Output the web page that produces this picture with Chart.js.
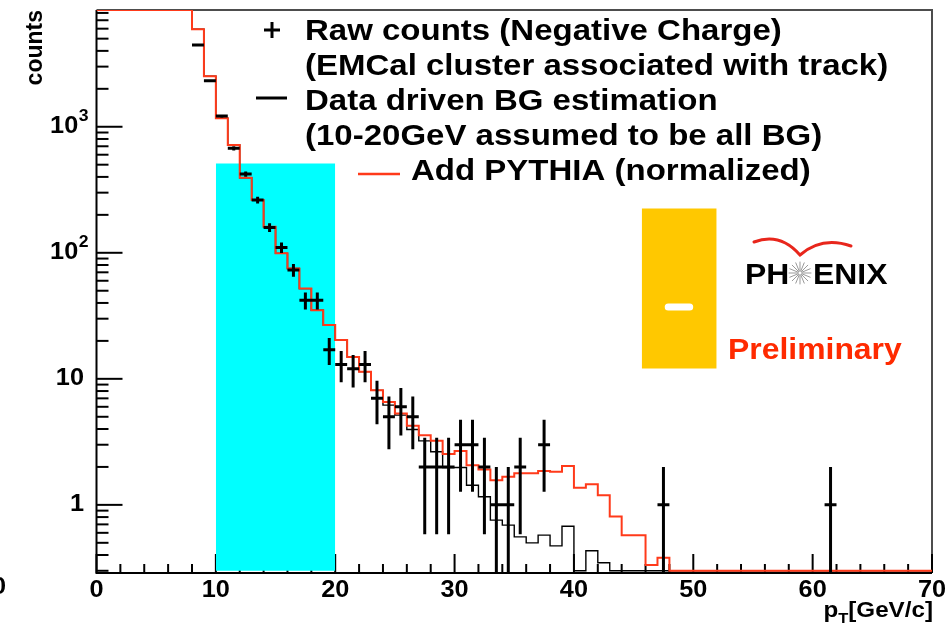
<!DOCTYPE html>
<html>
<head>
<meta charset="utf-8">
<script src="https://cdn.jsdelivr.net/npm/chart.js@4.4.0/dist/chart.umd.min.js"></script>
<style>
  html, body { margin: 0; padding: 0; background: #fff; }
  #wrap { width: 952px; height: 630px; }
</style>
</head>
<body>
<div id="wrap"><canvas id="ptChart" width="952" height="630"></canvas></div>
<script>
/* pT spectrum, negative charge, with BG estimate and PYTHIA */

// 1 GeV bins, lower edges (last entry = upper edge of last bin)
const binEdges = [0,1,2,3,4,5,6,7,8,9,10,11,12,13,14,15,16,17,18,19,20,
    21,22,23,24,25,26,27,28,29,30,31,32,33,34,35,36,37,38,39,40,
    41,42,43,44,45,46,47,48,49,50,51,52,53,54,55,56,57,58,59,60,
    61,62,63,64,65,66,67,68,69,70];

// BG + PYTHIA (normalized), bins 0..69  (1e4 = above the frame)
const pythiaAdded = [1e4,1e4,1e4,1e4,1e4,1e4,1e4,1e4,
    5930,2520,1167,716,394,262,161,99,75,52,
    35,26.7,20.3,14.9,11.4,8.1,6.56,5.31,4.24,3.57,
    3.22,2.53,2.67,2.06,1.91,1.57,1.67,1.78,1.78,1.86,
    1.83,2.03,1.37,1.46,1.19,0.81,0.575,0.575,0.333,0.38,
    0,0,0,0,0,0,0,0,0,0,0,0,0,0,0,0,0,0,0,0,0,0];

// data driven BG estimation, bins 0..69
const bgEstimate = [1e4,1e4,1e4,1e4,1e4,1e4,1e4,1e4,
    5930,2520,1167,716,394,262,161,99,75,52,
    35,26.7,20.3,14.9,11.4,8.1,6.18,5.15,3.96,3.22,
    2.64,1.98,1.98,1.43,1.16,0.757,0.69,0.557,0.499,0.575,
    0.473,0.677,0,0.432,0.347,0,0,0,0,0,
    0,0,0,0,0,0,0,0,0,0,0,0,0,0,0,0,0,0,0,0,0,0];

// raw counts (bin centre, counts)
const rawPt = [8.5,9.5,10.5,11.5,12.5,13.5,14.5,15.5,16.5,17.5,
    18.5,19.5,20.5,21.5,22.5,23.5,24.5,25.5,26.5,27.5,
    28.5,29.5,30.5,31.5,32.5,33.5,34.5,35.5,37.5,47.5,61.5];
const rawCounts = [4450,2318,1216,674,421,262,159,110,73,42,
    42,17,13,12,13,7,5,6,5,2,
    2,2,3,3,2,1,1,2,3,1,1];

// 10-20 GeV window and preliminary badge
const bgWindowX = [10, 20];
const bgWindowY = [0.3, 510];
const badgeX = [45.68, 51.96];
const badgeY = [12.1, 225];
const badgeDashX = [47.9, 49.7];
const badgeDashY = 37.2;

const xTickValues = [0,10,20,30,40,50,60,70];
const xTickLabels = ['0','10','20','30','40','50','60','70'];
const yTickValues = [1, 10, 100, 1000];
const yTickBase = ['1', '10', '10', '10'];
const yTickExp = ['', '', '2', '3'];

const legendLines = ['Raw counts (Negative Charge)',
    '(EMCal cluster associated with track)',
    'Data driven BG estimation',
    '(10-20GeV assumed to be all BG)',
    'Add PYTHIA (normalized)'];

const Y_MIN = 0.288;
const Y_MAX = 8440;
const ZERO_LEVEL = 0.3;
const RED = '#ff3a1a';
const SX = 1.1;
const FONT = '"Liberation Sans", Arial, Helvetica, sans-serif';
const LABEL_SIZE = 23;

function clampY(v) {
    if (v <= 0) return ZERO_LEVEL;
    return Math.min(v, Y_MAX);
}

function stepPoints(values) {
    const pts = values.map((v, i) => ({ x: binEdges[i], y: clampY(v) }));
    pts.push({ x: binEdges[values.length], y: clampY(values[values.length - 1]) });
    return pts;
}

function rawSegments() {
    const pts = [];
    rawPt.forEach((c, i) => {
        const n = rawCounts[i];
        const err = Math.sqrt(n);
        const lo = n - err > Y_MIN ? n - err : Y_MIN;
        pts.push({ x: c, y: lo }, { x: c, y: n + err }, { x: c, y: null });
        pts.push({ x: c - 0.5, y: n }, { x: c + 0.5, y: n }, { x: c, y: null });
    });
    return pts;
}

function drawText(ctx, str, x, y, size, opts) {
    opts = opts || {};
    ctx.save();
    ctx.font = 'bold ' + size + 'px ' + FONT;
    ctx.fillStyle = opts.color || '#000';
    ctx.textBaseline = opts.baseline || 'alphabetic';
    ctx.textAlign = opts.align || 'left';
    ctx.translate(x, y);
    ctx.scale(opts.sx || SX, 1);
    ctx.fillText(str, 0, 0);
    ctx.restore();
}

function textWidth(ctx, str, size) {
    ctx.save();
    ctx.font = 'bold ' + size + 'px ' + FONT;
    const w = ctx.measureText(str).width * SX;
    ctx.restore();
    return w;
}

function seg(ctx, x1, y1, x2, y2) {
    ctx.beginPath();
    ctx.moveTo(x1, y1);
    ctx.lineTo(x2, y2);
    ctx.stroke();
}

const rootDecor = {
    id: 'rootDecor',
    beforeDatasetsDraw(chart) {
        const { ctx, chartArea: a, scales: { x, y } } = chart;
        ctx.save();
        ctx.lineWidth = 2;
        ctx.strokeStyle = '#4d4d4d';
        ctx.beginPath();
        ctx.moveTo(a.left, a.top);
        ctx.lineTo(a.right, a.top);
        ctx.lineTo(a.right, a.bottom);
        ctx.stroke();
        ctx.strokeStyle = '#000';
        ctx.beginPath();
        ctx.moveTo(a.left, a.top);
        ctx.lineTo(a.left, a.bottom);
        ctx.lineTo(a.right, a.bottom);
        ctx.stroke();

        // log ticks, drawn inward
        for (let k = -1; k <= 3; k++) {
            for (let m = 1; m <= 9; m++) {
                const v = m * Math.pow(10, k);
                if (v < Y_MIN || v > Y_MAX) continue;
                const py = y.getPixelForValue(v);
                seg(ctx, a.left, py, a.left + (m === 1 ? 26 : 12), py);
            }
        }
        for (let v = 0; v <= 70; v += 2) {
            const px = x.getPixelForValue(v);
            seg(ctx, px, a.bottom, px, a.bottom - (v % 10 === 0 ? 19 : 9));
        }
        ctx.restore();
    },
    afterDraw(chart) {
        const { ctx, scales: { x, y } } = chart;
        ctx.save();

        // tick labels
        xTickValues.forEach((v, i) => {
            drawText(ctx, xTickLabels[i], x.getPixelForValue(v), 591, LABEL_SIZE, { align: 'center', baseline: 'middle' });
        });
        drawText(ctx, '0', 6, 588, LABEL_SIZE, { align: 'right', baseline: 'middle' });
        yTickValues.forEach((v, i) => {
            const py = y.getPixelForValue(v);
            if (yTickExp[i]) {
                const wb = textWidth(ctx, yTickBase[i], LABEL_SIZE);
                const we = textWidth(ctx, yTickExp[i], 16);
                const x0 = 88 - wb - we;
                drawText(ctx, yTickBase[i], x0, py, LABEL_SIZE, { baseline: 'middle' });
                drawText(ctx, yTickExp[i], x0 + wb + 0.5, py - 10, 16, { baseline: 'middle' });
            } else {
                drawText(ctx, yTickBase[i], 84, py, LABEL_SIZE, { align: 'right', baseline: 'middle' });
            }
        });

        // axis titles
        ctx.save();
        ctx.translate(42, 10);
        ctx.rotate(-Math.PI / 2);
        ctx.font = 'bold 23px ' + FONT;
        ctx.fillStyle = '#000';
        ctx.textAlign = 'right';
        ctx.textBaseline = 'alphabetic';
        ctx.fillText('counts', 0, 0);
        ctx.restore();

        const wp = textWidth(ctx, 'p', 22);
        const wt = textWidth(ctx, 'T', 15);
        const wr = textWidth(ctx, '[GeV/c]', 22);
        const px0 = 933 - wp - wt - wr;
        drawText(ctx, 'p', px0, 617, 22);
        drawText(ctx, 'T', px0 + wp, 623, 15);
        drawText(ctx, '[GeV/c]', px0 + wp + wt, 617, 22);

        // legend
        const baselines = [40, 75, 110, 145, 180];
        ctx.strokeStyle = '#000';
        ctx.lineWidth = 3;
        seg(ctx, 264, 30, 280, 30);
        seg(ctx, 272, 22, 272, 38);
        seg(ctx, 256, 98, 287, 98);
        ctx.strokeStyle = RED;
        ctx.lineWidth = 2.5;
        seg(ctx, 358, 174, 400, 174);
        legendLines.forEach((t, i) => {
            drawText(ctx, t, i === 4 ? 411 : 305, baselines[i], 30);
        });

        // PHENIX logo
        ctx.strokeStyle = '#e8261c';
        ctx.lineWidth = 3;
        ctx.lineCap = 'round';
        ctx.beginPath();
        ctx.moveTo(754, 242);
        ctx.quadraticCurveTo(780, 232, 800, 255);
        ctx.quadraticCurveTo(822, 236, 851, 246);
        ctx.stroke();
        drawText(ctx, 'PH', 745, 284, 29);
        drawText(ctx, 'ENIX', 813, 284, 29);
        ctx.strokeStyle = '#999';
        ctx.lineWidth = 1;
        for (let k = 0; k < 16; k++) {
            const ang = k * Math.PI / 8;
            seg(ctx, 800 + 2 * Math.cos(ang), 273 + 2 * Math.sin(ang),
                800 + 11 * Math.cos(ang), 273 + 11 * Math.sin(ang));
        }
        drawText(ctx, 'Preliminary', 728, 359, 29, { color: '#ff2a00' });
        ctx.restore();
    }
};

new Chart(document.getElementById('ptChart'), {
    type: 'line',
    data: {
        datasets: [
            {
                label: 'Raw counts',
                data: rawSegments(),
                borderColor: '#000',
                borderWidth: 3,
                pointRadius: 0,
                spanGaps: false,
                order: 0
            },
            {
                label: 'Add PYTHIA',
                data: stepPoints(pythiaAdded),
                borderColor: RED,
                borderWidth: 2,
                stepped: true,
                pointRadius: 0,
                order: 1
            },
            {
                label: 'BG estimation',
                data: stepPoints(bgEstimate),
                borderColor: '#000',
                borderWidth: 1.4,
                stepped: true,
                pointRadius: 0,
                order: 2
            },
            {
                label: 'badge dash',
                data: [{ x: badgeDashX[0], y: badgeDashY }, { x: badgeDashX[1], y: badgeDashY }],
                borderColor: '#fff',
                borderWidth: 7,
                borderCapStyle: 'round',
                pointRadius: 0,
                order: 3
            },
            {
                label: 'badge',
                data: [{ x: badgeX[0], y: badgeY[1] }, { x: badgeX[1], y: badgeY[1] }],
                borderWidth: 0,
                backgroundColor: '#ffc800',
                fill: { value: badgeY[0] },
                pointRadius: 0,
                order: 4
            },
            {
                label: 'BG window',
                data: [{ x: bgWindowX[0], y: bgWindowY[1] }, { x: bgWindowX[1], y: bgWindowY[1] }],
                borderWidth: 0,
                backgroundColor: '#00ffff',
                fill: { value: bgWindowY[0] },
                pointRadius: 0,
                order: 5
            }
        ]
    },
    options: {
        responsive: false,
        animation: false,
        events: [],
        layout: { padding: { left: 96.5, right: 20, top: 10, bottom: 57 } },
        scales: {
            x: { type: 'linear', min: 0, max: 70, bounds: 'data', display: false },
            y: { type: 'logarithmic', min: Y_MIN, max: Y_MAX, bounds: 'data', display: false }
        },
        plugins: { legend: { display: false }, tooltip: { enabled: false } }
    },
    plugins: [rootDecor]
});
</script>
</body>
</html>
